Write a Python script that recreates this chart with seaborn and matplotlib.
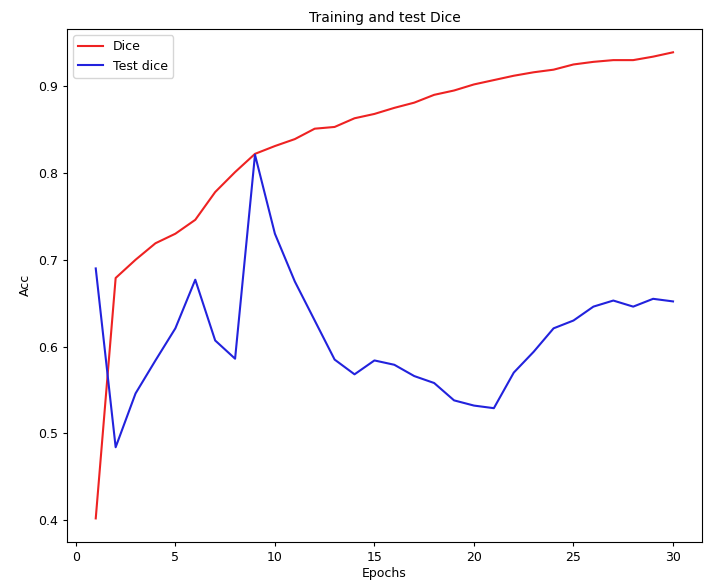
import matplotlib

matplotlib.use("Agg")
import matplotlib.pyplot as plt
import pandas as pd
import seaborn as sns

epochs = list(range(1, 31))
train_dice = [0.402, 0.679, 0.700, 0.719, 0.730, 0.746, 0.778, 0.801, 0.822, 0.831,
              0.839, 0.851, 0.853, 0.863, 0.868, 0.875, 0.881, 0.890, 0.895, 0.902,
              0.907, 0.912, 0.916, 0.919, 0.925, 0.928, 0.930, 0.930, 0.934, 0.939]
test_dice = [0.690, 0.484, 0.546, 0.584, 0.621, 0.677, 0.607, 0.586, 0.821, 0.730,
             0.675, 0.630, 0.585, 0.568, 0.584, 0.579, 0.566, 0.558, 0.538, 0.532,
             0.529, 0.570, 0.594, 0.621, 0.630, 0.646, 0.653, 0.646, 0.655, 0.652]

df = pd.DataFrame({"epoch": epochs + epochs,
                   "dice": train_dice + test_dice,
                   "series": ["Dice"] * 30 + ["Test dice"] * 30})

plt.rcParams["font.size"] = 9
fig, ax = plt.subplots(figsize=(7.04, 5.8), dpi=100)
fig.subplots_adjust(left=0.095, right=0.997, top=0.95, bottom=0.066)
sns.lineplot(data=df, x="epoch", y="dice", hue="series",
             palette={"Dice": "#ee2222", "Test dice": "#2222dd"},
             lw=1.5, ax=ax)
ax.set_title("Training and test Dice", fontsize=10, pad=5)
ax.set_xlabel("Epochs", labelpad=2); ax.set_ylabel("Acc")
ax.set_xticks([0, 5, 10, 15, 20, 25, 30])
ax.tick_params(length=3)
ax.legend(title=None, loc="upper left")
fig.savefig("out.png", dpi=100)
